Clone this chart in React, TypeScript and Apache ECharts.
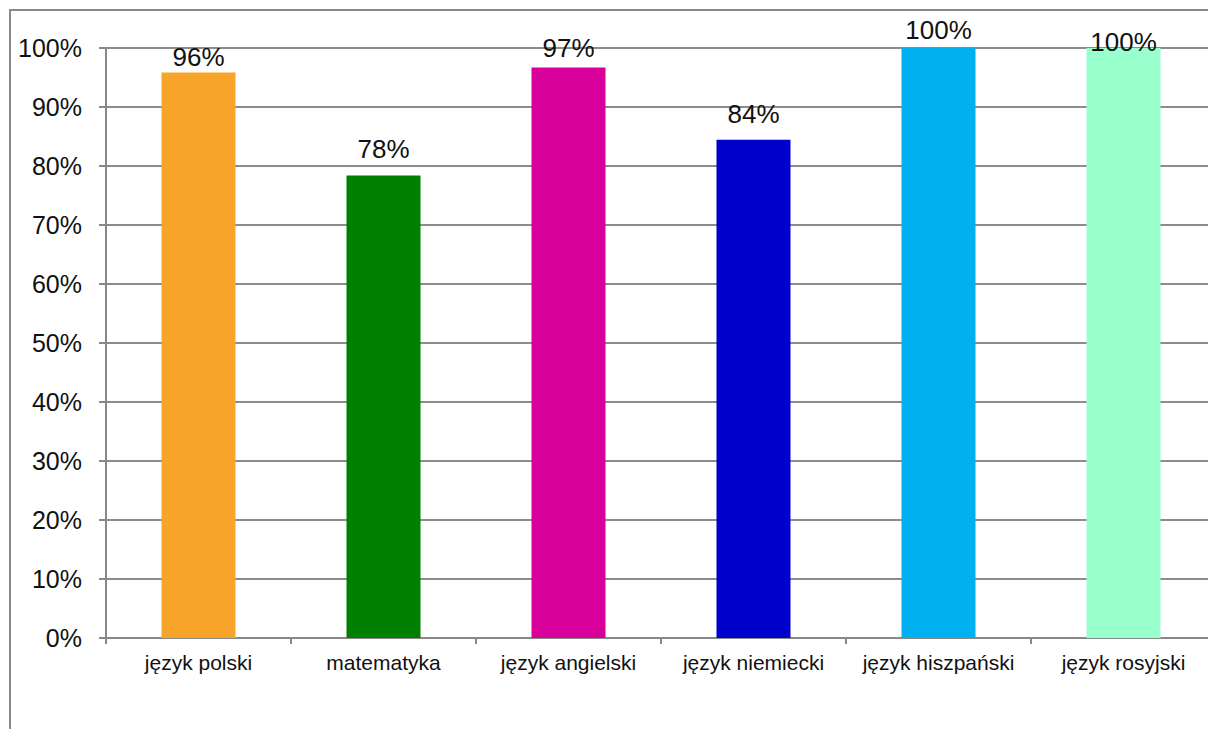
import React, { useEffect, useRef } from "react";
import * as echarts from "echarts";

const categories = [
  "język polski",
  "matematyka",
  "język angielski",
  "język niemiecki",
  "język hiszpański",
  "język rosyjski",
];
const values = [95.85, 78.4, 96.7, 84.45, 100, 100];
const barColors = ["#F7A52A", "#008000", "#D8009A", "#0000CC", "#00B0F0", "#99FFCC"];
const yTicks = { min: 0, max: 100, interval: 10 };

export default function App() {
  const ref = useRef<HTMLDivElement>(null);
  useEffect(() => {
    if (!ref.current) return;
    const chart = echarts.init(ref.current, undefined, { renderer: "svg" });
    const font = "Liberation Sans, Arial, sans-serif";
    const labelShift = [1, -10, -3, -10, -2, 10];
    chart.setOption({
      animation: false,
      grid: { left: 106, top: 48, width: 1110, height: 590, containLabel: false },
      xAxis: {
        type: "category",
        data: categories,
        axisLine: { show: true, lineStyle: { color: "#888888", width: 2 } },
        axisTick: { show: true, length: 6, lineStyle: { color: "#888888", width: 2 } },
        axisLabel: { color: "#111111", fontSize: 21, fontFamily: font, margin: 14, interval: 0 },
        splitLine: { show: false },
      },
      yAxis: {
        type: "value",
        min: yTicks.min,
        max: yTicks.max,
        interval: yTicks.interval,
        axisLine: { show: true, lineStyle: { color: "#888888", width: 2 } },
        axisTick: { show: true, length: 7, lineStyle: { color: "#888888", width: 2 } },
        axisLabel: { color: "#111111", fontSize: 25, fontFamily: font, margin: 24, formatter: "{value}%" },
        splitLine: { show: true, lineStyle: { color: "#8c8c8c", width: 2 } },
      },
      series: [
        {
          type: "bar",
          barWidth: "40%",
          data: values.map((v, i) => ({
            value: v,
            itemStyle: { color: barColors[i] },
            label: { offset: [0, labelShift[i]] },
          })),
          label: {
            show: true,
            position: "top",
            distance: 3,
            color: "#111111",
            fontSize: 26,
            fontFamily: font,
            formatter: (p: any) => Math.round(p.value) + "%",
          },
        },
      ],
    });
    return () => chart.dispose();
  }, []);
  return (
    <div style={{ position: "fixed", left: 0, top: 0, width: 1208, height: 729, overflow: "hidden", background: "#fff" }}>
      <div
        style={{
          position: "absolute",
          left: 9,
          top: 9,
          width: 1400,
          height: 1000,
          borderTop: "2px solid #8a8a8a",
          borderLeft: "2px solid #8a8a8a",
          boxSizing: "border-box",
        }}
      />
      <div ref={ref} style={{ position: "absolute", left: 0, top: 0, width: 1240, height: 760 }} />
    </div>
  );
}
